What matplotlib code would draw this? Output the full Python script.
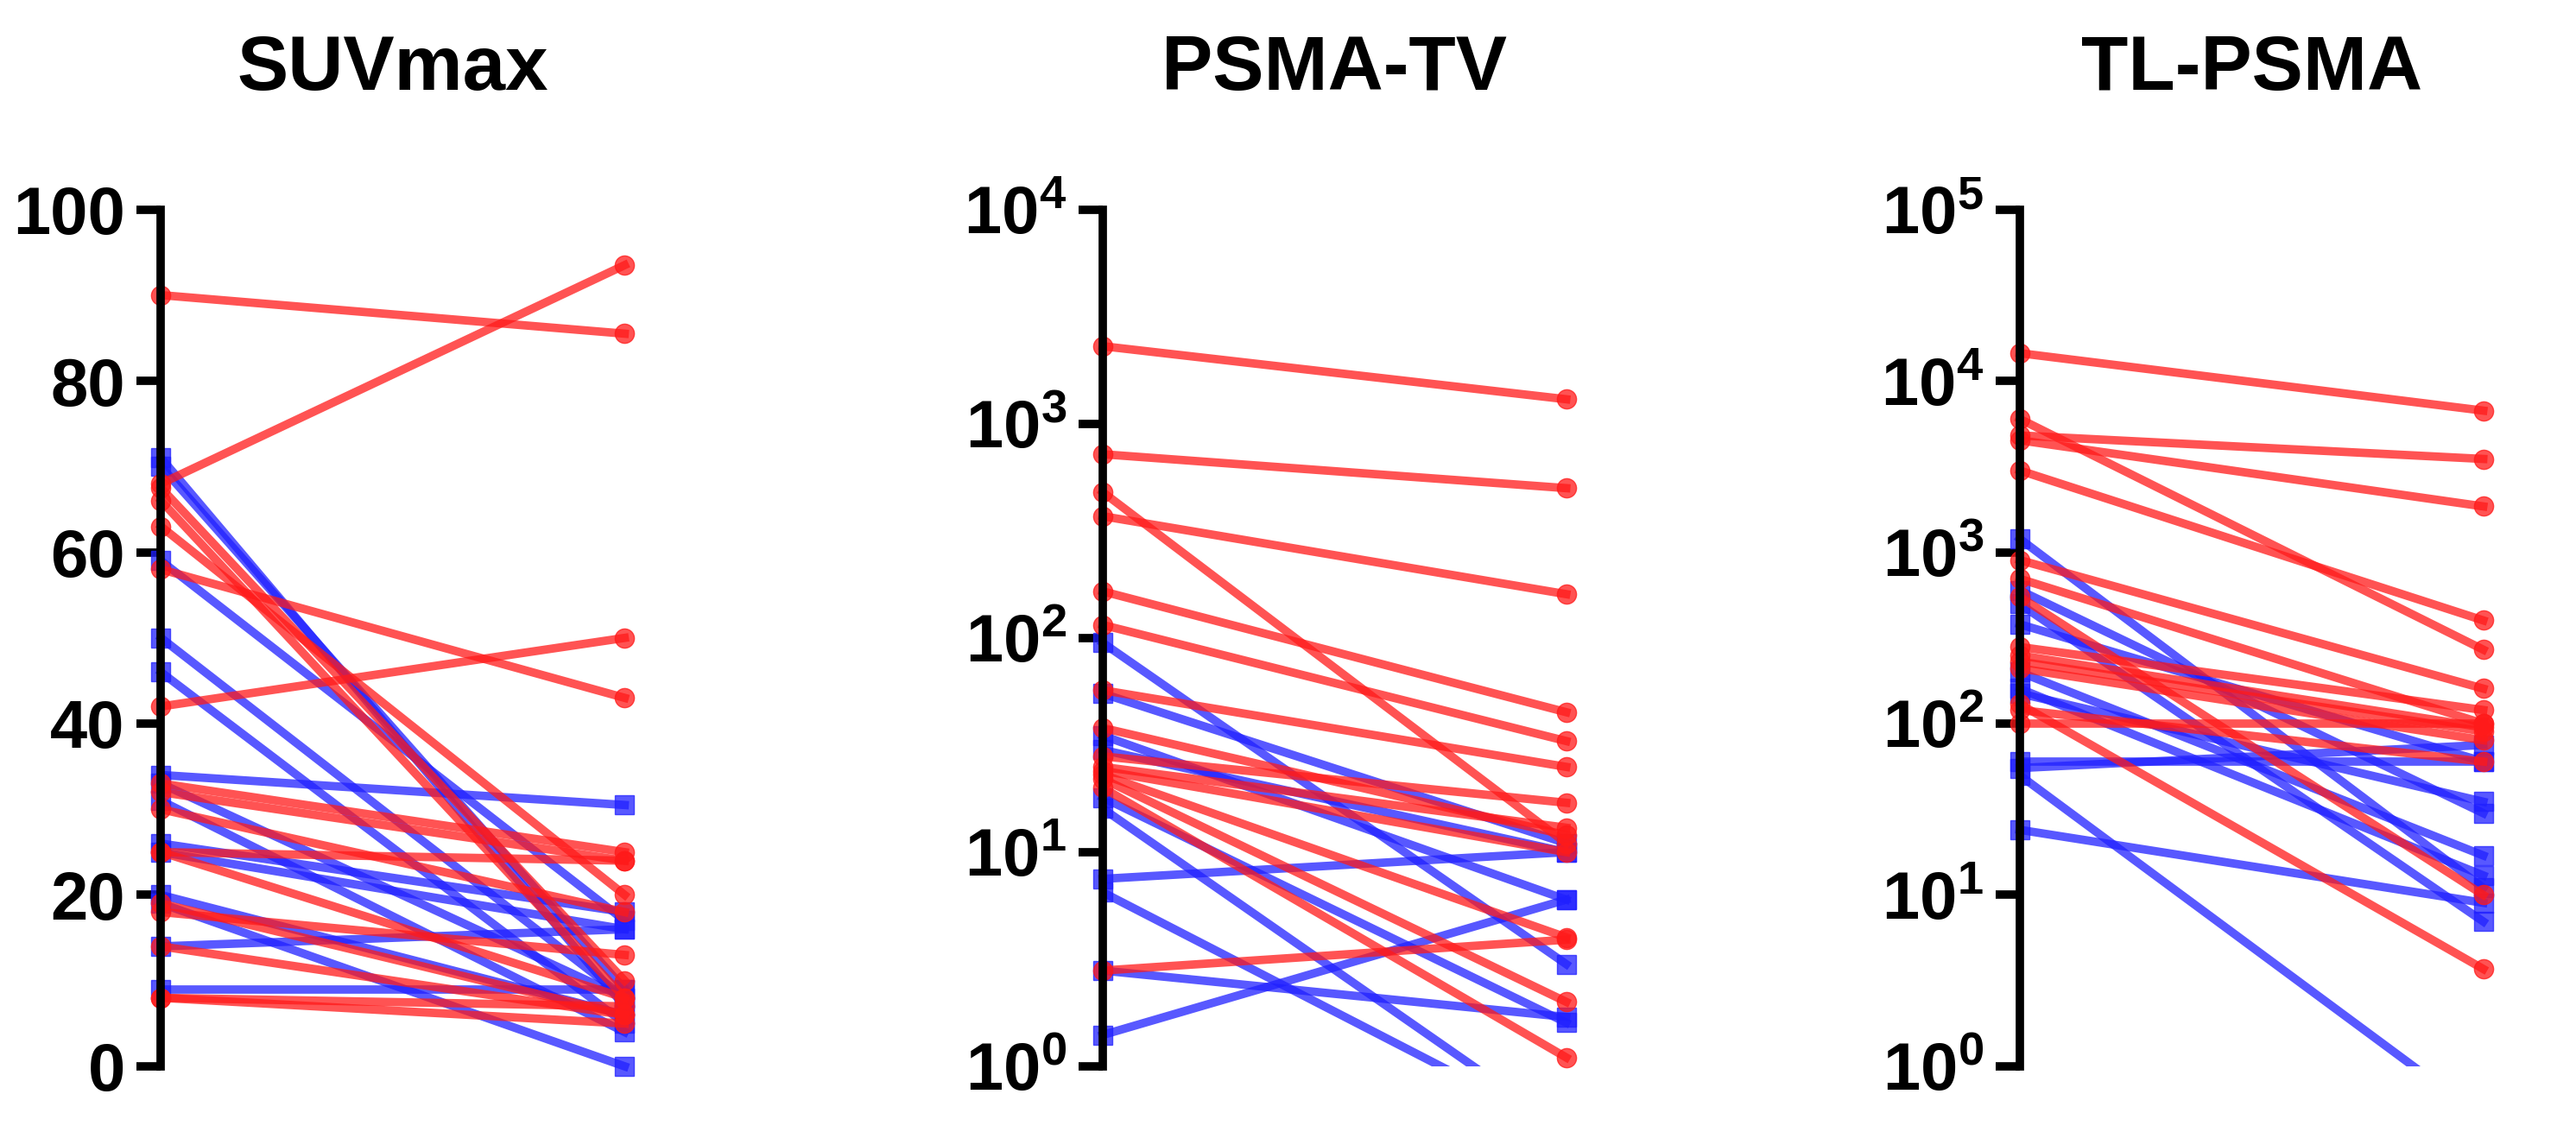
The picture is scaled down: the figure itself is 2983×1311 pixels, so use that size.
import matplotlib
matplotlib.use("Agg")
import matplotlib.pyplot as plt
import numpy as np

plt.rcParams['font.family'] = ['Liberation Sans', 'DejaVu Sans']
plt.rcParams['mathtext.fontset'] = 'custom'
plt.rcParams['mathtext.bf'] = 'Liberation Sans:bold'
plt.rcParams['mathtext.rm'] = 'Liberation Sans:bold'

titles = ["SUVmax", "PSMA-TV", "TL-PSMA"]

suv_red_pre  = [90, 68, 67.5, 66, 63, 58, 42, 33, 32, 30, 25, 25, 19, 18, 14, 8, 8]
suv_red_post = [85.5, 93.5, 10, 8, 20, 43, 50, 25, 24, 18, 24, 8, 6, 13, 6, 7, 5]
suv_blue_pre  = [71, 70, 59, 50, 46, 34, 33, 31, 26, 25, 20, 19, 14, 9]
suv_blue_post = [7, 9, 17, 8, 5, 30.5, 8, 4, 18, 16, 6, 0, 16, 9]

tv_red_pre  = [2300, 720, 480, 370, 165, 115, 57, 38, 28, 25, 24, 23, 22, 20, 2.8]
tv_red_post = [1300, 500, 11, 160, 45, 33, 25, 12, 17, 13, 10, 4, 2, 1.1, 3.9]
tv_blue_pre  = [95, 55, 35, 30, 18, 16, 7.5, 6.5, 2.8, 1.4]
tv_blue_post = [3, 11, 6, 10, 1.6, 0.5, 10, 0.5, 1.7, 6]

tl_red_pre  = [14500, 6000, 4800, 4500, 3000, 900, 700, 550, 280, 250, 230, 210, 130, 120, 100]
tl_red_post = [6700, 270, 3500, 1850, 400, 160, 100, 10, 120, 95, 90, 80, 3.7, 60, 100]
tl_blue_pre  = [1200, 600, 500, 380, 200, 160, 150, 60, 55, 50, 24]
tl_blue_post = [11, 30, 7, 60, 17, 13, 35, 60, 75, 0.5, 9]

panels = [
    (suv_red_pre, suv_red_post, suv_blue_pre, suv_blue_post, False, (0, 100), [0, 20, 40, 60, 80, 100]),
    (tv_red_pre, tv_red_post, tv_blue_pre, tv_blue_post, True, (1, 1e4), [0, 1, 2, 3, 4]),
    (tl_red_pre, tl_red_post, tl_blue_pre, tl_blue_post, True, (1, 1e5), [0, 1, 2, 3, 4, 5]),
]

fig = plt.figure(figsize=(29.83, 13.11), dpi=100)
lefts = [0.0625, 0.428, 0.784]
for i, (rp, rq, bp, bq, logy, ylim, ticks) in enumerate(panels):
    ax = fig.add_axes([lefts[i], 0.058, 0.18, 0.757])
    for a, b in zip(bp, bq):
        ax.plot([0, 1], [a, b], color='#2020ff', alpha=0.75, lw=7, marker='s', ms=16, clip_on=(b < ylim[0]))
    for a, b in zip(rp, rq):
        ax.plot([0, 1], [a, b], color='#ff1a1a', alpha=0.75, lw=7, marker='o', ms=16, clip_on=False)
    if logy:
        ax.set_yscale('log')
        ax.set_yticks([10**t for t in ticks])
        ax.set_yticklabels([r"$\mathbf{10^{%d}}$" % t for t in ticks])
        ax.minorticks_off()
    else:
        ax.set_yticks(ticks)
        ax.set_yticklabels([str(t) for t in ticks])
    ax.set_ylim(*ylim)
    ax.set_xlim(0, 1)
    for s in ['top', 'right', 'bottom']:
        ax.spines[s].set_visible(False)
    ax.spines['left'].set_linewidth(7)
    ax.tick_params(axis='y', width=7, length=20, labelsize=56, pad=10)
    for lab in ax.get_yticklabels():
        lab.set_fontweight('bold')
    ax.set_xticks([])
    ax.set_title(titles[i], fontsize=64, fontweight='bold', pad=100)

fig.savefig("out.png", dpi=100)
